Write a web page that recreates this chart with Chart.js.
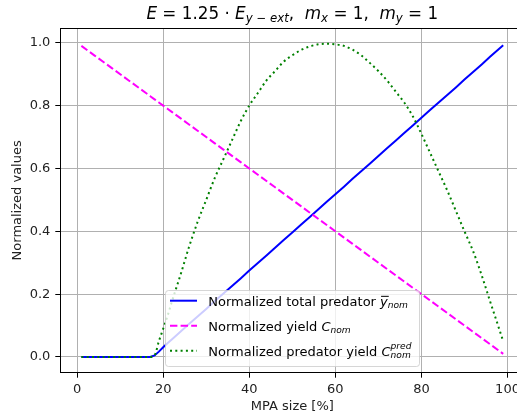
<!DOCTYPE html>
<html>
<head>
<meta charset="utf-8">
<script src="https://cdn.jsdelivr.net/npm/chart.js@4.4.1/dist/chart.umd.min.js"></script>
<style>
  html, body { margin: 0; padding: 0; background: #fff; overflow: hidden; }
  #wrap { width: 530px; height: 420px; }
</style>
</head>
<body>
<div id="wrap"><canvas id="chart" width="530" height="420"></canvas></div>
<script>
// MPA size [%] sample points
const mpaSize = [1, 4, 8, 12, 16, 17, 18, 19, 20, 21, 22, 24, 26, 28, 30, 32, 34, 36, 38, 40,
  42, 44, 46, 48, 50, 52, 54, 56, 58, 60, 62, 64, 66, 68, 70, 72, 74, 76, 78, 80,
  82, 84, 86, 88, 90, 92, 94, 96, 98, 99];

// normalized total predator (blue)
const predatorNom = [0, 0, 0, 0, 0, 0, 0.005, 0.017, 0.031, 0.044, 0.056, 0.080, 0.105, 0.129, 0.153, 0.178, 0.202, 0.226, 0.250, 0.275,
  0.299, 0.323, 0.348, 0.372, 0.396, 0.421, 0.445, 0.469, 0.494, 0.518, 0.542, 0.567, 0.591, 0.615, 0.640, 0.664, 0.688, 0.713, 0.737, 0.761,
  0.786, 0.810, 0.834, 0.858, 0.883, 0.907, 0.931, 0.956, 0.980, 0.992];

// normalized yield (magenta)
const yieldNom = [0.99, 0.96, 0.92, 0.88, 0.84, 0.83, 0.82, 0.81, 0.80, 0.79, 0.78, 0.76, 0.74, 0.72, 0.70, 0.68, 0.66, 0.64, 0.62, 0.60,
  0.58, 0.56, 0.54, 0.52, 0.50, 0.48, 0.46, 0.44, 0.42, 0.40, 0.38, 0.36, 0.34, 0.32, 0.30, 0.28, 0.26, 0.24, 0.22, 0.20,
  0.18, 0.16, 0.14, 0.12, 0.10, 0.08, 0.06, 0.04, 0.02, 0.01];

// normalized predator yield (green)
const predYieldNom = [0, 0, 0, 0, 0, 0, 0.005, 0.05, 0.09, 0.13, 0.175, 0.26, 0.35, 0.43, 0.50, 0.57, 0.63, 0.69, 0.75, 0.80,
  0.84, 0.88, 0.91, 0.94, 0.96, 0.977, 0.988, 0.995, 0.997, 0.995, 0.99, 0.978, 0.96, 0.936, 0.91, 0.88, 0.845, 0.81, 0.766, 0.71,
  0.65, 0.59, 0.53, 0.465, 0.40, 0.337, 0.26, 0.175, 0.092, 0.05];

const xTicks = [0, 20, 40, 60, 80, 100];
const yTicks = [0.0, 0.2, 0.4, 0.6, 0.8, 1.0];

const FONT = "'DejaVu Sans'";

function pts(ys) {
  return mpaSize.map(function (x, i) { return { x: x, y: ys[i] }; });
}

// draw a run of text pieces (italic / sub / sup) on the canvas
function drawRich(ctx, parts, x, y, size) {
  let cx = x, start = x, prevW = 0;
  parts.forEach(function (p) {
    const s = p.sub || p.sup ? size * 0.7 : size;
    ctx.font = (p.it ? 'oblique ' : '') + s + 'px ' + FONT;
    const w = ctx.measureText(p.t).width;
    const px = p.stack ? start : cx;
    const dy = p.sub ? size * 0.2 : p.sup ? -size * 0.5 : 0;
    ctx.fillText(p.t, px, y + dy);
    if (p.bar) {
      ctx.save();
      ctx.strokeStyle = ctx.fillStyle;
      ctx.lineWidth = 1;
      ctx.beginPath();
      ctx.moveTo(px + 1, y - size * 0.72);
      ctx.lineTo(px + w + 1, y - size * 0.72);
      ctx.stroke();
      ctx.restore();
    }
    if (p.stack) {
      cx = start + Math.max(prevW, w);
    } else {
      start = cx; prevW = w; cx += w;
    }
  });
  return cx - x;
}

function richWidth(ctx, parts, size) {
  ctx.save();
  ctx.globalAlpha = 0;
  const w = drawRich(ctx, parts, 0, 0, size);
  ctx.restore();
  return w;
}

const titleParts = [
  { t: 'E', it: true }, { t: ' = 1.25 · ' }, { t: 'E', it: true },
  { t: 'y', it: true, sub: true }, { t: ' − ', sub: true }, { t: 'ext', it: true, sub: true },
  { t: ',  ' }, { t: 'm', it: true }, { t: 'x', it: true, sub: true },
  { t: ' = 1,  ' }, { t: 'm', it: true }, { t: 'y', it: true, sub: true }, { t: ' = 1' }
];

const legendRows = [
  { color: '#0000ff', dash: [], parts: [{ t: 'Normalized total predator ' }, { t: 'y', it: true, bar: true }, { t: 'nom', it: true, sub: true }] },
  { color: '#ff00ff', dash: [7.4, 3.2], parts: [{ t: 'Normalized yield ' }, { t: 'C', it: true }, { t: 'nom', it: true, sub: true }] },
  { color: '#008000', dash: [2, 3.3], parts: [{ t: 'Normalized predator yield ' }, { t: 'C', it: true }, { t: 'pred', it: true, sup: true }, { t: 'nom', it: true, sub: true, stack: true }] }
];

const decor = {
  id: 'decor',
  afterDraw: function (chart) {
    const ctx = chart.ctx;
    const a = chart.chartArea;
    ctx.save();
    // top and right spines
    ctx.strokeStyle = '#000';
    ctx.lineWidth = 1;
    ctx.beginPath();
    ctx.moveTo(Math.round(a.left) + 0.5, Math.round(a.top) + 0.5);
    ctx.lineTo(Math.round(a.right) + 0.5, Math.round(a.top) + 0.5);
    ctx.lineTo(Math.round(a.right) + 0.5, Math.round(a.bottom) + 0.5);
    ctx.stroke();

    // title
    ctx.fillStyle = '#000';
    ctx.textBaseline = 'alphabetic';
    const tw = richWidth(ctx, titleParts, 16.8);
    drawRich(ctx, titleParts, (a.left + a.right) / 2 - tw / 2, 19, 16.8);

    // legend
    const lx = 165.5, ly = 290.5, lw = 254, lh = 76;
    ctx.fillStyle = 'rgba(255,255,255,0.8)';
    ctx.strokeStyle = 'rgba(204,204,204,0.8)';
    ctx.beginPath();
    ctx.roundRect(lx, ly, lw, lh, 3);
    ctx.fill();
    ctx.stroke();
    legendRows.forEach(function (row, i) {
      const cy = 300.7 + i * 25;
      ctx.strokeStyle = row.color;
      ctx.lineWidth = 2;
      ctx.setLineDash(row.dash);
      ctx.beginPath();
      ctx.moveTo(170, cy);
      ctx.lineTo(197, cy);
      ctx.stroke();
      ctx.setLineDash([]);
      ctx.fillStyle = '#000';
      drawRich(ctx, row.parts, 208.3, cy + 5, 13);
    });
    ctx.restore();
  }
};

const ctx = document.getElementById('chart').getContext('2d');
const chart = new Chart(ctx, {
  type: 'line',
  data: {
    datasets: [
      { data: pts(predatorNom), borderColor: '#0000ff', borderWidth: 2, pointRadius: 0, tension: 0, order: 3 },
      { data: pts(yieldNom), borderColor: '#ff00ff', borderWidth: 2, borderDash: [7.4, 3.2], pointRadius: 0, tension: 0, order: 2 },
      { data: pts(predYieldNom), borderColor: '#008000', borderWidth: 2, borderDash: [2, 3.3], pointRadius: 0, cubicInterpolationMode: 'monotone', order: 1 }
    ]
  },
  options: {
    responsive: false,
    animation: false,
    devicePixelRatio: 1,
    layout: { padding: { top: 28, right: 5.7, left: 0, bottom: 0 } },
    plugins: { legend: { display: false }, title: { display: false }, tooltip: { enabled: false } },
    scales: {
      x: {
        type: 'linear',
        min: -3.9,
        max: 103.9,
        afterBuildTicks: function (s) { s.ticks = xTicks.map(function (v) { return { value: v }; }); },
        afterFit: function (s) { s.height = 47.3; },
        grid: { color: '#b0b0b0', lineWidth: 1, tickLength: 5, tickColor: '#000' },
        border: { color: '#000', width: 1 },
        ticks: { font: { family: FONT, size: 13 }, color: '#222', padding: 4, maxRotation: 0, autoSkip: false,
          callback: function (v) { return String(v); } },
        title: { display: true, text: 'MPA size [%]', font: { family: FONT, size: 13 }, color: '#222', padding: { top: 0, bottom: 5.7 } }
      },
      y: {
        min: -0.05,
        max: 1.047,
        afterBuildTicks: function (s) { s.ticks = yTicks.map(function (v) { return { value: v }; }); },
        afterFit: function (s) { s.width = 60.3; },
        grid: { color: '#b0b0b0', lineWidth: 1, tickLength: 5, tickColor: '#000' },
        border: { color: '#000', width: 1 },
        ticks: { font: { family: FONT, size: 13 }, color: '#222', padding: 5,
          callback: function (v) { return v.toFixed(1); } },
        title: { display: true, text: 'Normalized values', font: { family: FONT, size: 13 }, color: '#222', padding: { top: 10, bottom: 0 } }
      }
    }
  },
  plugins: [decor]
});
</script>
</body>
</html>
